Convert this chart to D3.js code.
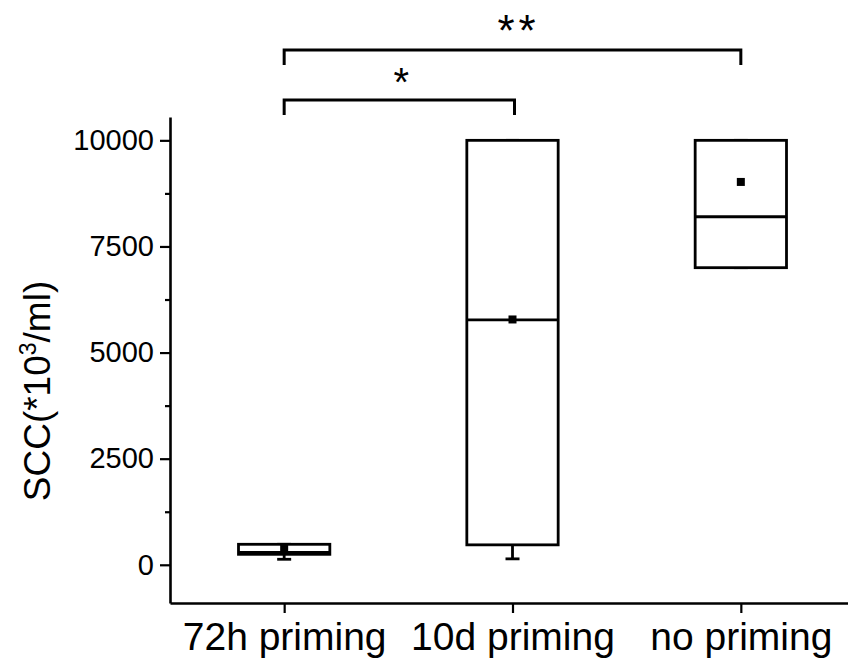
<!DOCTYPE html>
<html>
<head>
<meta charset="utf-8">
<script src="https://cdn.jsdelivr.net/npm/d3@7"></script>
<style>
  html, body { margin: 0; padding: 0; background: #fff; }
  svg { display: block; }
  text { font-family: "Liberation Sans", Arial, Helvetica, sans-serif; fill: #000; }
</style>
</head>
<body>
<svg id="chart" width="848" height="659"></svg>
<script>
// Somatic cell count per priming group (box = Q1..Q3, line = median, square = mean)
const categories   = ["72h priming", "10d priming", "no priming"];
const q1           = [247, 470, 7000];
const medians      = [295, 5770, 8200];
const q3           = [483, 10000, 10000];
const whiskerLow   = [130, 140, 7000];
const whiskerHigh  = [483, 10000, 10000];
const means        = [377, 5780, 9020];

const yMajorTicks  = [0, 2500, 5000, 7500, 10000];
const yMinorTicks  = [1250, 3750, 6250, 8750];

// Significance comparisons: [from index, to index, label]
const compFrom   = [0, 0];
const compTo     = [2, 1];
const compLabels = ["**", "*"];

const svg = d3.select("#chart");

const x = d3.scalePoint().domain(categories).range([170, 855]).padding(0.5);
const y = d3.scaleLinear().domain([-900, 10550]).range([603, 117]);

const boxW = x.step() * 0.4;
const capW = 14;
const lw = 2.8;

// Axes
const gx = svg.append("g").attr("transform", "translate(0,603)")
  .call(d3.axisBottom(x).tickSizeInner(10).tickSizeOuter(0));
gx.select(".domain").attr("stroke-width", 2.6);
gx.selectAll(".tick line").attr("stroke-width", 2.2);
gx.selectAll(".tick text").attr("font-size", 39).attr("dy", 0).attr("y", 47);

const gy = svg.append("g").attr("transform", "translate(170,0)")
  .call(d3.axisLeft(y).tickValues(yMajorTicks).tickSizeInner(10).tickSizeOuter(0).tickPadding(6)
    .tickFormat(d3.format("d")));
gy.select(".domain").attr("stroke-width", 2.6);
gy.selectAll(".tick line").attr("stroke-width", 2.2);
gy.selectAll(".tick text").attr("font-size", 29);

const gyMinor = svg.append("g").attr("transform", "translate(170,0)")
  .call(d3.axisLeft(y).tickValues(yMinorTicks).tickSize(5).tickFormat(""));
gyMinor.select(".domain").remove();
gyMinor.selectAll(".tick line").attr("stroke-width", 2.2);

// Y axis title
svg.append("text")
  .attr("transform", "translate(50,391) rotate(-90)")
  .attr("text-anchor", "middle")
  .attr("font-size", 37)
  .html('SCC(*10<tspan font-size="23" dy="-14">3</tspan><tspan dy="14">/ml)</tspan>');

// Boxes
const boxes = svg.append("g");
categories.forEach((c, i) => {
  const cx = x(c);
  const g = boxes.append("g").attr("stroke", "#000").attr("stroke-width", lw).attr("fill", "none");
  // lower whisker
  g.append("line").attr("x1", cx).attr("x2", cx).attr("y1", y(q1[i])).attr("y2", y(whiskerLow[i]));
  g.append("line").attr("x1", cx - capW / 2).attr("x2", cx + capW / 2)
    .attr("y1", y(whiskerLow[i])).attr("y2", y(whiskerLow[i]));
  // upper whisker
  g.append("line").attr("x1", cx).attr("x2", cx).attr("y1", y(q3[i])).attr("y2", y(whiskerHigh[i]));
  g.append("line").attr("x1", cx - capW / 2).attr("x2", cx + capW / 2)
    .attr("y1", y(whiskerHigh[i])).attr("y2", y(whiskerHigh[i]));
  // box
  g.append("rect").attr("x", cx - boxW / 2).attr("width", boxW)
    .attr("y", y(q3[i])).attr("height", y(q1[i]) - y(q3[i])).attr("fill", "#fff");
  // median
  g.append("line").attr("x1", cx - boxW / 2).attr("x2", cx + boxW / 2)
    .attr("y1", y(medians[i])).attr("y2", y(medians[i]));
  // mean marker
  boxes.append("rect").attr("x", cx - 4).attr("y", y(means[i]) - 4)
    .attr("width", 8).attr("height", 8).attr("fill", "#000");
});

// Significance brackets
const bracketY = [50, 100];
const legLen = 15;
compFrom.forEach((f, k) => {
  const x1 = x(categories[f]), x2 = x(categories[compTo[k]]) + (k === 1 ? 2 : 0);
  const by = bracketY[k];
  svg.append("path")
    .attr("d", `M${x1},${by + legLen}V${by}H${x2}V${by + legLen}`)
    .attr("fill", "none").attr("stroke", "#000").attr("stroke-width", 3);
  svg.append("text")
    .attr("x", (x1 + x2) / 2 + (k === 0 ? 6 : 2))
    .attr("y", by - 4)
    .attr("text-anchor", "middle")
    .attr("font-size", k === 0 ? 44 : 40)
    .attr("letter-spacing", k === 0 ? 4 : 0)
    .text(compLabels[k]);
});
</script>
</body>
</html>
